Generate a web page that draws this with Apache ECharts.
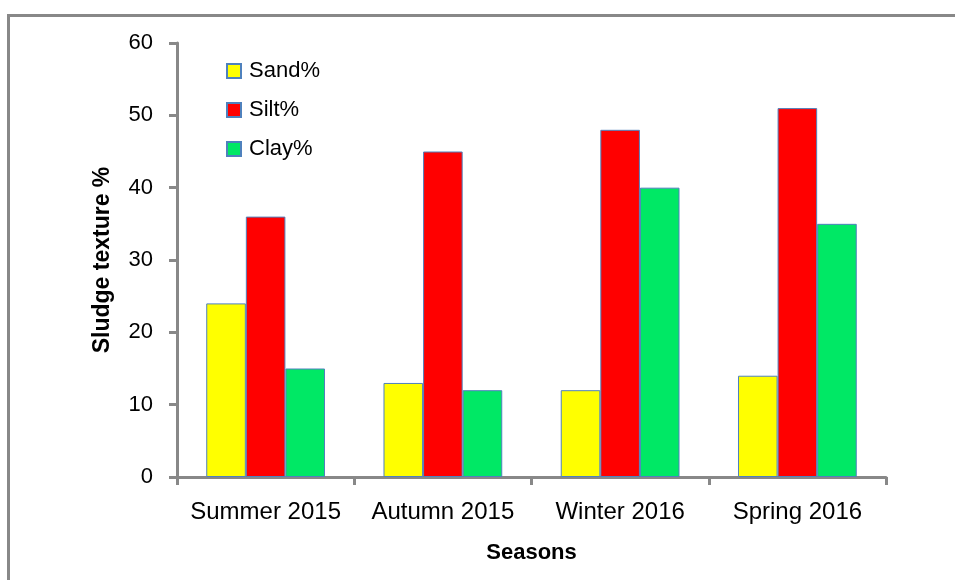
<!DOCTYPE html>
<html>
<head>
<meta charset="utf-8">
<script src="https://cdn.jsdelivr.net/npm/echarts@6/dist/echarts.min.js"></script>
<style>html,body{margin:0;padding:0;background:#fff}#c{width:955px;height:580px}</style>
</head>
<body>
<div id="c"></div>
<script>
var categories = ['Summer 2015', 'Autumn 2015', 'Winter 2016', 'Spring 2016'];
var sand = [24, 13, 12, 14];
var silt = [36, 45, 48, 51];
var clay = [15, 12, 40, 35];
var yTicks = [0, 10, 20, 30, 40, 50, 60];

var font = 'Liberation Sans, Arial, sans-serif';
var chart = echarts.init(document.getElementById('c'));
function bar(name, data, color) {
  return {
    name: name, type: 'bar', data: data, barGap: '0%', barCategoryGap: '33%',
    itemStyle: { color: color, borderColor: '#4F81BD', borderWidth: 1 }
  };
}
chart.setOption({
  animation: false,
  backgroundColor: '#fff',
  graphic: [{
    type: 'rect', left: 6, top: 13, shape: { width: 960, height: 580 },
    style: { fill: 'none', stroke: '#888', lineWidth: 3 }, silent: true
  }],
  grid: { left: 177, right: 69, top: 43, bottom: 103 },
  legend: {
    orient: 'vertical', left: 221, top: 55, itemWidth: 14, itemHeight: 14, itemGap: 17,
    icon: 'rect',
    textStyle: { fontFamily: font, fontSize: 22, color: '#000', padding: [0, 0, 0, 3] },
    data: ['Sand%', 'Silt%', 'Clay%']
  },
  xAxis: {
    type: 'category', data: categories,
    name: 'Seasons', nameLocation: 'middle', nameGap: 65,
    nameTextStyle: { fontFamily: font, fontSize: 22, fontWeight: 'bold', color: '#000' },
    axisLine: { lineStyle: { color: '#888', width: 3 } },
    axisTick: { show: true, length: 8, lineStyle: { color: '#888', width: 3 } },
    axisLabel: { interval: 0, fontFamily: font, fontSize: 24, color: '#000', margin: 23 }
  },
  yAxis: {
    type: 'value', min: 0, max: 60, interval: 10,
    name: 'Sludge texture %', nameLocation: 'middle', nameGap: 63,
    nameTextStyle: { fontFamily: font, fontSize: 23, fontWeight: 'bold', color: '#000' },
    axisLine: { show: true, lineStyle: { color: '#888', width: 3 } },
    axisTick: { show: true, length: 8, lineStyle: { color: '#888', width: 3 } },
    splitLine: { show: false },
    axisLabel: {
      fontFamily: font, fontSize: 22, color: '#000', margin: 24,
      formatter: function (v) { return yTicks.indexOf(v) >= 0 ? String(v) : ''; }
    }
  },
  series: [
    bar('Sand%', sand, '#FFFF00'),
    bar('Silt%', silt, '#FF0000'),
    bar('Clay%', clay, '#00E865')
  ]
});
</script>
</body>
</html>
